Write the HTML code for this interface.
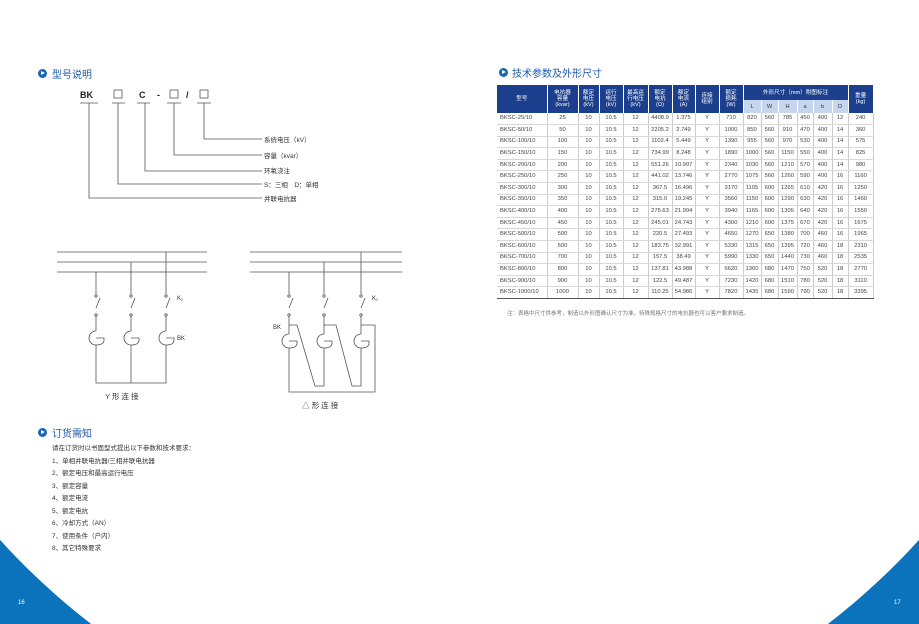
<!DOCTYPE html>
<html><head><meta charset="utf-8"><style>
*{margin:0;padding:0;box-sizing:border-box}
html,body{width:919px;height:624px;overflow:hidden}
body{position:relative;background:#0b72bc;font-family:"Liberation Sans","Noto Sans CJK SC",sans-serif;color:#333}
.a{position:absolute;white-space:nowrap}
.h{font-size:10px;color:#1c5aa8}
.ic{position:absolute;width:9px;height:9px;border-radius:50%;background:#1666b8}
.ic:after{content:"";position:absolute;left:3px;top:2px;border-left:4px solid #fff;border-top:2.5px solid transparent;border-bottom:2.5px solid transparent}
.s{font-size:6.5px;color:#333}
table{position:absolute;left:497px;top:85px;border-collapse:collapse;table-layout:fixed;width:376px;font-size:5.8px;color:#444}
td{text-align:center;border-bottom:1px solid #d8d8d8;border-right:1px solid #ccc;height:11.6px;padding:0;line-height:9px;overflow:hidden}
tr.d td:first-child{text-align:left;padding-left:3px}
th{background:#1b3f8c;color:#fff;font-weight:normal;font-size:5.6px;line-height:6px;border-right:1px solid #fff;padding:0;overflow:hidden}
th.l{background:#c6d6ef;color:#333;height:13px}
tr.last td{border-bottom:1px solid #555}
</style></head><body>
<svg class="a" style="left:0;top:0" width="919" height="624"><ellipse cx="459.5" cy="0" rx="660" ry="752" fill="#fff"/></svg>

<div class="ic" style="left:38px;top:69px"></div><div class="a h" style="left:52px;top:66px">型号说明</div>
<svg class="a" style="left:0;top:0" width="460" height="420" fill="none" stroke="#555" stroke-width="0.8">
<g font-size="9" font-weight="bold" fill="#222" stroke="none" font-family="Liberation Sans"><text x="80" y="98">BK</text><text x="139" y="98">C</text><text x="157" y="98">-</text><text x="186" y="98">/</text></g>
<rect x="114" y="90" width="8" height="8"/><rect x="170" y="90" width="8" height="8"/><rect x="200" y="90" width="8" height="8"/>
<path d="M80 103h18M112 103h13M137 103h13M167 103h14M197 103h14"/>
<path d="M89 103V198H262M118 103V184H262M145 103V171H262M174 103V155H262M204 103V139H262"/>
<g font-size="6.5" fill="#333" stroke="none" font-family="Liberation Sans,Noto Sans CJK SC"><text x="264" y="142">系统电压（kV）</text><text x="264" y="158">容量（kvar）</text><text x="264" y="173">环氧浇注</text><text x="264" y="187">S：三相　D：单相</text><text x="264" y="201">并联电抗器</text></g>
<path d="M57 252H207M57 262H207M57 272H207"/>
<path d="M96 272V294M131 262V294M166 252V294"/>
<path d="M96 308l4 -10M131 308l4 -10M166 308l4 -10"/>
<circle cx="96" cy="296" r="1.2"/><circle cx="131" cy="296" r="1.2"/><circle cx="166" cy="296" r="1.2"/>
<circle cx="96" cy="315" r="1.2"/><circle cx="131" cy="315" r="1.2"/><circle cx="166" cy="315" r="1.2"/>
<path d="M96 316V331M131 316V331M166 316V331"/>
<path d="M96 331A7 7 0 1 0 96 345M96 338h8v2q0 5 -8 5M131 331A7 7 0 1 0 131 345M131 338h8v2q0 5 -8 5M166 331A7 7 0 1 0 166 345M166 338h8v2q0 5 -8 5"/>
<path d="M96 345V383H166V345M131 345V383"/>
<g font-size="6" fill="#333" stroke="none" font-family="Liberation Sans,Noto Sans CJK SC"><text x="177" y="300">K₁</text><text x="177" y="340">BK</text><text x="105" y="399" font-size="7.5">Y 形 连 接</text></g>
<path d="M250 252H402M250 262H402M250 272H402"/>
<path d="M289 272V294M324 262V294M361 252V294"/>
<path d="M289 308l4 -10M324 308l4 -10M361 308l4 -10"/>
<circle cx="289" cy="296" r="1.2"/><circle cx="324" cy="296" r="1.2"/><circle cx="361" cy="296" r="1.2"/>
<circle cx="289" cy="315" r="1.2"/><circle cx="324" cy="315" r="1.2"/><circle cx="361" cy="315" r="1.2"/>
<path d="M289 316V334M324 316V334M361 316V334"/>
<path d="M289 334A7 7 0 1 0 289 348M289 341h8v2q0 5 -8 5M324 334A7 7 0 1 0 324 348M324 341h8v2q0 5 -8 5M361 334A7 7 0 1 0 361 348M361 341h8v2q0 5 -8 5"/>
<path d="M289 325H297L315 386H324V348M324 325H336L352 386H361V348M361 325H375V392H289V348"/>
<g font-size="6" fill="#333" stroke="none" font-family="Liberation Sans,Noto Sans CJK SC"><text x="372" y="300">K₁</text><text x="273" y="329">BK</text><text x="302" y="408" font-size="7.5">△ 形 连 接</text></g>
</svg>

<div class="ic" style="left:38px;top:428px"></div><div class="a h" style="left:52px;top:425px">订货需知</div>
<div class="a s" style="left:52px;top:443px;line-height:12.5px">请在订货时以书面型式提出以下参数和技术要求：<br>1、单相并联电抗器/三相并联电抗器<br>2、额定电压和最高运行电压<br>3、额定容量<br>4、额定电流<br>5、额定电抗<br>6、冷却方式（AN）<br>7、使用条件（户内）<br>8、其它特殊要求</div>

<div class="ic" style="left:499px;top:68px"></div><div class="a h" style="left:512px;top:65px">技术参数及外形尺寸</div>
<table>
<colgroup><col style="width:50px"><col style="width:31px"><col style="width:21px"><col style="width:24px"><col style="width:25px"><col style="width:24px"><col style="width:23px"><col style="width:24px"><col style="width:24px"><col style="width:18px"><col style="width:17px"><col style="width:19px"><col style="width:16px"><col style="width:19px"><col style="width:16px"><col style="width:25px"></colgroup>
<tr><th rowspan="2" style="height:28px">型号</th><th rowspan="2">电抗器<br>容量<br>(kvar)</th><th rowspan="2">额定<br>电压<br>(kV)</th><th rowspan="2">运行<br>电压<br>(kV)</th><th rowspan="2">最高运<br>行电压<br>(kV)</th><th rowspan="2">额定<br>电抗<br>(Ω)</th><th rowspan="2">额定<br>电流<br>(A)</th><th rowspan="2">连接<br>组别</th><th rowspan="2">额定<br>损耗<br>(W)</th><th colspan="6" style="height:15px">外形尺寸（mm）附图标注</th><th rowspan="2">重量<br>(kg)</th></tr>
<tr><th class="l">L</th><th class="l">W</th><th class="l">H</th><th class="l">a</th><th class="l">b</th><th class="l">D</th></tr>
<tr class="d"><td>BKSC-25/10</td><td>25</td><td>10</td><td>10.5</td><td>12</td><td>4408.9</td><td>1.375</td><td>Y</td><td>710</td><td>820</td><td>560</td><td>785</td><td>450</td><td>400</td><td>12</td><td>240</td></tr>
<tr class="d"><td>BKSC-50/10</td><td>50</td><td>10</td><td>10.5</td><td>12</td><td>2205.2</td><td>2.749</td><td>Y</td><td>1000</td><td>850</td><td>560</td><td>910</td><td>470</td><td>400</td><td>14</td><td>360</td></tr>
<tr class="d"><td>BKSC-100/10</td><td>100</td><td>10</td><td>10.5</td><td>12</td><td>1102.4</td><td>5.449</td><td>Y</td><td>1390</td><td>955</td><td>560</td><td>970</td><td>530</td><td>400</td><td>14</td><td>575</td></tr>
<tr class="d"><td>BKSC-150/10</td><td>150</td><td>10</td><td>10.5</td><td>12</td><td>734.99</td><td>8.248</td><td>Y</td><td>1890</td><td>1000</td><td>560</td><td>1150</td><td>550</td><td>400</td><td>14</td><td>825</td></tr>
<tr class="d"><td>BKSC-200/10</td><td>200</td><td>10</td><td>10.5</td><td>12</td><td>551.26</td><td>10.997</td><td>Y</td><td>2340</td><td>1030</td><td>560</td><td>1210</td><td>570</td><td>400</td><td>14</td><td>980</td></tr>
<tr class="d"><td>BKSC-250/10</td><td>250</td><td>10</td><td>10.5</td><td>12</td><td>441.02</td><td>13.746</td><td>Y</td><td>2770</td><td>1075</td><td>560</td><td>1260</td><td>590</td><td>400</td><td>16</td><td>1160</td></tr>
<tr class="d"><td>BKSC-300/10</td><td>300</td><td>10</td><td>10.5</td><td>12</td><td>367.5</td><td>16.496</td><td>Y</td><td>3170</td><td>1105</td><td>600</td><td>1265</td><td>610</td><td>420</td><td>16</td><td>1250</td></tr>
<tr class="d"><td>BKSC-350/10</td><td>350</td><td>10</td><td>10.5</td><td>12</td><td>315.0</td><td>19.245</td><td>Y</td><td>3560</td><td>1150</td><td>600</td><td>1290</td><td>630</td><td>420</td><td>16</td><td>1460</td></tr>
<tr class="d"><td>BKSC-400/10</td><td>400</td><td>10</td><td>10.5</td><td>12</td><td>275.63</td><td>21.994</td><td>Y</td><td>3940</td><td>1165</td><td>600</td><td>1305</td><td>640</td><td>420</td><td>16</td><td>1550</td></tr>
<tr class="d"><td>BKSC-450/10</td><td>450</td><td>10</td><td>10.5</td><td>12</td><td>245.01</td><td>24.743</td><td>Y</td><td>4300</td><td>1210</td><td>600</td><td>1375</td><td>670</td><td>420</td><td>16</td><td>1675</td></tr>
<tr class="d"><td>BKSC-500/10</td><td>500</td><td>10</td><td>10.5</td><td>12</td><td>220.5</td><td>27.493</td><td>Y</td><td>4650</td><td>1270</td><td>650</td><td>1380</td><td>700</td><td>460</td><td>16</td><td>1965</td></tr>
<tr class="d"><td>BKSC-600/10</td><td>600</td><td>10</td><td>10.5</td><td>12</td><td>183.75</td><td>32.991</td><td>Y</td><td>5330</td><td>1315</td><td>650</td><td>1395</td><td>720</td><td>460</td><td>18</td><td>2310</td></tr>
<tr class="d"><td>BKSC-700/10</td><td>700</td><td>10</td><td>10.5</td><td>12</td><td>157.5</td><td>38.49</td><td>Y</td><td>5990</td><td>1330</td><td>650</td><td>1440</td><td>730</td><td>460</td><td>18</td><td>2535</td></tr>
<tr class="d"><td>BKSC-800/10</td><td>800</td><td>10</td><td>10.5</td><td>12</td><td>137.81</td><td>43.988</td><td>Y</td><td>6620</td><td>1360</td><td>680</td><td>1470</td><td>750</td><td>520</td><td>18</td><td>2770</td></tr>
<tr class="d"><td>BKSC-900/10</td><td>900</td><td>10</td><td>10.5</td><td>12</td><td>122.5</td><td>49.487</td><td>Y</td><td>7230</td><td>1420</td><td>680</td><td>1510</td><td>780</td><td>520</td><td>18</td><td>3110</td></tr>
<tr class="d last"><td>BKSC-1000/10</td><td>1000</td><td>10</td><td>10.5</td><td>12</td><td>110.25</td><td>54.986</td><td>Y</td><td>7820</td><td>1435</td><td>680</td><td>1590</td><td>790</td><td>520</td><td>18</td><td>3395</td></tr>
</table>
<div class="a" style="left:507px;top:309px;font-size:5.5px;color:#777">注：表格中尺寸供参考，制造以外形图确认尺寸为准，特殊规格尺寸的电抗器也可以客户要求制造。</div>

<div class="a" style="left:18px;top:600px;font-size:6px;color:#fff">16</div>
<div class="a" style="left:894px;top:600px;font-size:6px;color:#fff">17</div>
</body></html>
